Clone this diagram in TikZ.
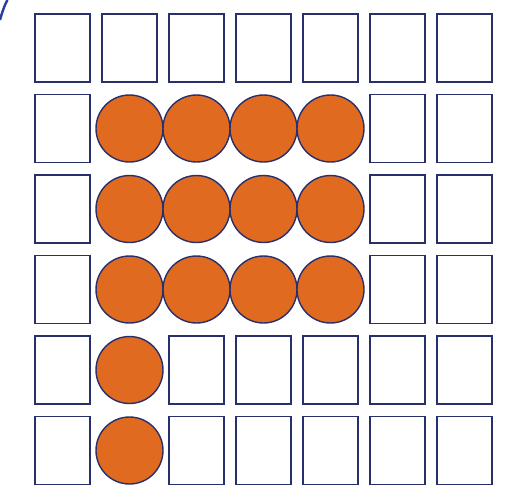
\documentclass[tikz,border=0pt]{standalone}
\usepackage{tikz}
\definecolor{navy}{HTML}{27306B}
\definecolor{edgeblue}{HTML}{2A3FA0}
\definecolor{dotorange}{HTML}{E06A20}
\begin{document}
\begin{tikzpicture}[
    x=0.02cm, y=-0.02cm,
    cell/.style={draw=navy, line width=1.1pt, minimum width=1.1cm, minimum height=1.36cm, inner sep=0pt},
    dot/.style={circle, draw=navy, line width=0.8pt, fill=dotorange, minimum size=1.34cm, inner sep=0pt},
]
\useasboundingbox (0,0) rectangle (520,497);

% 7x6 grid: a dot or an empty cell in each place
\foreach \c in {1,...,7}
  \foreach \r in {1,...,6} {
    \pgfmathtruncatemacro{\full}{(\c>1 && \c<6 && \r>1 && \r<5) || (\c==2 && \r>4)}
    \ifnum\full=1
      \node[dot] (d-\c-\r) at ({62.5+67*(\c-1)}, {48+80.5*(\r-1)}) {};
    \else
      \node[cell] (b-\c-\r) at ({62.5+67*(\c-1)}, {48+80.5*(\r-1)}) {};
    \fi
  }

% edge of the frame
\draw[edgeblue, line width=1.4pt] (0,20) .. controls (2,13) and (4,6) .. (7.5,0);
\end{tikzpicture}
\end{document}
